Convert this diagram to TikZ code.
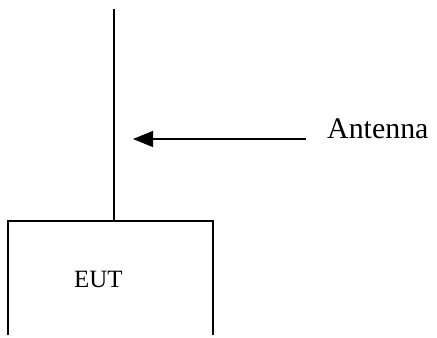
\documentclass[tikz,border=0pt]{standalone}
\usepackage{fontspec}
\setmainfont{Liberation Serif}
\usetikzlibrary{arrows.meta}
\begin{document}
\begin{tikzpicture}[x=1bp,y=-1bp,
  line/.style={draw=black,line width=1.1bp},
  lbl/.style={inner sep=0pt,anchor=base west}]
\useasboundingbox (0,0) rectangle (437,337);
\coordinate (top) at (114,9);
\coordinate (base) at (114,221);
\coordinate (bl) at (8,335);
\coordinate (tl) at (8,221);
\coordinate (tr) at (213,221);
\coordinate (br) at (213,335);
\coordinate (tail) at (306,139);
\coordinate (tip) at (133,139);
\draw[line] (top) -- (base);
\draw[line] (bl) -- (tl) -- (tr) -- (br);
\draw[line,-{Triangle[length=20bp,width=16bp]}] (tail) -- (tip);
\node[lbl,font=\fontsize{30}{35}\selectfont] (ant) at (327,138) {Antenna};
\node[lbl,font=\fontsize{25}{29}\selectfont] (eut) at (74,287) {EUT};
\end{tikzpicture}
\end{document}
